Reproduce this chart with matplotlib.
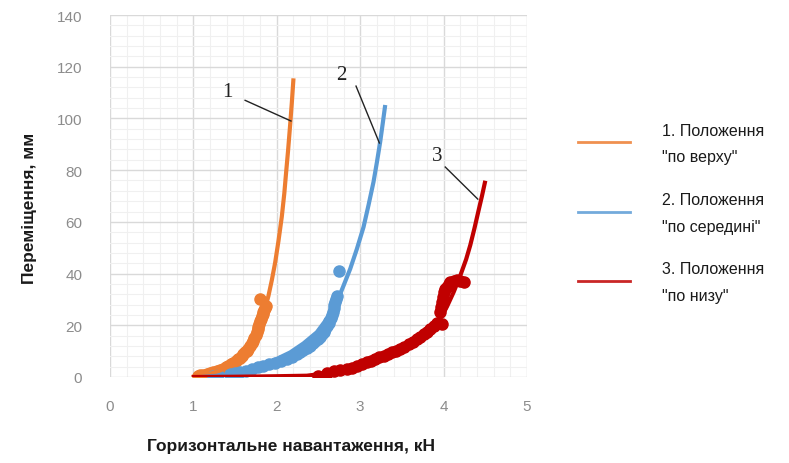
import matplotlib

matplotlib.use("Agg")
import matplotlib.pyplot as plt
from matplotlib.lines import Line2D
from matplotlib.ticker import MultipleLocator

# measured points: horizontal load (kN) vs displacement (mm)
top_x = [1.05, 1.08, 1.12, 1.16, 1.20, 1.24, 1.28, 1.32, 1.35, 1.39, 1.42, 1.45,
         1.48, 1.51, 1.53, 1.56, 1.58, 1.60, 1.62, 1.64, 1.66, 1.68, 1.70, 1.72,
         1.73, 1.75, 1.76, 1.77, 1.78, 1.79, 1.80, 1.81, 1.82, 1.83, 1.84, 1.85,
         1.86, 1.87, 1.80]
top_y = [0.4, 0.6, 0.8, 1.1, 1.5, 1.9, 2.4, 2.9, 3.2, 3.9, 4.4, 5.0,
         5.5, 6.2, 6.8, 7.5, 8.0, 8.8, 9.5, 10.2, 11.0, 12.0, 13.0, 14.0,
         15.0, 16.2, 17.3, 18.5, 19.5, 20.5, 21.5, 22.5, 23.5, 24.3, 25.0, 25.8,
         26.5, 27.5, 30.0]

mid_x = [1.24, 1.30, 1.44, 1.50, 1.56, 1.63, 1.70, 1.77, 1.84, 1.91, 1.98, 2.05,
         2.12, 2.18, 2.24, 2.28, 2.32, 2.36, 2.40, 2.43, 2.46, 2.49, 2.52, 2.54,
         2.56, 2.58, 2.60, 2.62, 2.63, 2.65, 2.66, 2.67, 2.68, 2.69, 2.70, 2.71,
         2.72, 2.74]
mid_y = [0.5, 0.7, 1.2, 1.5, 1.8, 2.4, 3.0, 3.7, 4.4, 5.0, 5.6, 6.3,
         7.0, 7.9, 8.8, 9.6, 10.5, 11.3, 12.1, 13.0, 13.8, 14.6, 15.5, 16.5,
         17.5, 18.6, 19.8, 20.8, 21.8, 23.0, 24.0, 25.2, 26.5, 27.8, 29.0, 30.2,
         31.4, 41.0]

low_x = [2.50, 2.60, 2.68, 2.76, 2.84, 2.90, 2.96, 3.02, 3.08, 3.13, 3.18, 3.23,
         3.28, 3.33, 3.38, 3.43, 3.48, 3.53, 3.58, 3.63, 3.68, 3.72, 3.76, 3.80,
         3.84, 3.88, 3.92, 3.98, 3.96, 3.97, 3.98, 3.99, 4.00, 4.02, 4.04, 4.06,
         4.08, 4.12, 4.16, 4.20, 4.24]
low_y = [0.5, 1.5, 2.4, 2.7, 3.0, 3.6, 4.2, 5.0, 5.7, 6.3, 7.0, 7.6,
         8.2, 8.9, 9.5, 10.1, 10.8, 11.7, 12.6, 13.6, 14.7, 15.6, 16.5, 17.5,
         18.6, 19.8, 21.0, 20.5, 25.0, 27.0, 29.0, 31.0, 32.8, 34.0, 35.0, 35.8,
         36.6, 37.2, 37.5, 37.0, 36.6]

# fitted trend lines
fit_top_x = [0.98, 1.10, 1.20, 1.32, 1.44, 1.54, 1.64, 1.72, 1.80, 1.86, 1.90,
             1.94, 1.98, 2.02, 2.06, 2.09, 2.11, 2.135, 2.16, 2.18, 2.20]
fit_top_y = [0.0, 0.5, 1.2, 2.5, 4.4, 7.2, 10.8, 15.5, 21.0, 26.5, 31.4,
             37.4, 44.2, 52.6, 62.0, 71.0, 78.5, 87.5, 97.5, 106.0, 115.5]

fit_mid_x = [1.10, 1.30, 1.48, 1.64, 1.80, 1.98, 2.16, 2.32, 2.48, 2.60, 2.72,
             2.80, 2.88, 2.96, 3.04, 3.10, 3.16, 3.20, 3.24, 3.27, 3.30]
fit_mid_y = [0.0, 0.5, 1.2, 2.6, 4.4, 6.7, 9.5, 13.0, 17.3, 22.5, 28.9,
             35.3, 41.8, 49.5, 58.0, 66.5, 75.5, 83.0, 91.0, 98.0, 105.2]

fit_low_x = [0.98, 1.50, 2.00, 2.36, 2.56, 2.76, 2.96, 3.16, 3.36, 3.56, 3.70,
             3.84, 3.95, 4.04, 4.12, 4.20, 4.27, 4.32, 4.37, 4.42, 4.46, 4.50]
fit_low_y = [0.0, 0.1, 0.3, 0.5, 1.3, 2.4, 3.9, 5.7, 8.0, 10.8, 13.8,
             17.6, 22.0, 27.2, 32.8, 39.2, 45.5, 51.0, 57.5, 64.5, 70.0, 75.9]

colors = ["#ED7D31", "#5B9BD5", "#C00000"]
labels = ['1. Положення\n"по верху"', '2. Положення\n"по середині"', '3. Положення\n"по низу"']

W, H = 789, 464
fig = plt.figure(figsize=(W / 100, H / 100), dpi=100)
ax = fig.add_axes([110 / W, (H - 378) / H, (527 - 110) / W, (378 - 16) / H])

series = [(top_x, top_y, fit_top_x, fit_top_y),
          (mid_x, mid_y, fit_mid_x, fit_mid_y),
          (low_x, low_y, fit_low_x, fit_low_y)]
for (px, py, fx, fy), c in zip(series, colors):
    ax.plot(px, py, "o", color=c, markersize=8, zorder=3)
    ax.plot(fx, fy, "-", color=c, linewidth=3, solid_capstyle="butt",
            solid_joinstyle="round", zorder=4)

# curve numbers with leader lines
callouts = [("1", (1.41, 110.5), (1.62, 107.0), (2.17, 99.0)),
            ("2", (2.77, 117.0), (2.95, 112.5), (3.23, 90.5)),
            ("3", (3.92, 85.5), (4.02, 81.2), (4.41, 68.8))]
for num, txt, p0, p1 in callouts:
    ax.text(*txt, num, ha="center", va="center", fontsize=15,
            family="Liberation Serif", color="#222222", zorder=5)
    ax.plot([p0[0], p1[0]], [p0[1], p1[1]], color="#222222", linewidth=1, zorder=5)

ax.set_xlim(0, 5)
ax.set_ylim(0, 140)
ax.xaxis.set_major_locator(MultipleLocator(1))
ax.xaxis.set_minor_locator(MultipleLocator(0.2))
ax.yaxis.set_major_locator(MultipleLocator(20))
ax.yaxis.set_minor_locator(MultipleLocator(4))
ax.grid(True, which="major", color="#d9d9d9", linewidth=1)
ax.grid(True, which="minor", color="#f0f0f0", linewidth=0.8)
ax.set_axisbelow(True)
for s in ax.spines.values():
    s.set_visible(False)
ax.tick_params(which="both", length=0)
ax.tick_params(axis="y", pad=20)
ax.tick_params(axis="x", pad=16)
for t in ax.get_xticklabels() + ax.get_yticklabels():
    t.set_fontsize(11)
    t.set_color("#8c8c8c")
    t.set_family("Liberation Sans")

fig.text(30 / W, 1 - 208 / H, "Переміщення, мм", rotation=90, ha="center", va="center",
         fontsize=12.5, fontweight="bold", family="Liberation Sans", color="#1a1a1a")
fig.text(291 / W, 1 - 447 / H, "Горизонтальне навантаження, кН", ha="center", va="center",
         fontsize=12.5, fontweight="bold", family="Liberation Sans", color="#1a1a1a")

# legend drawn by hand for its wide line spacing
for i, (c, lab) in enumerate(zip(colors, labels)):
    yl = 143 + i * 69.5
    fig.add_artist(Line2D([578 / W, 630 / W], [1 - yl / H, 1 - yl / H],
                          transform=fig.transFigure, color=c, linewidth=2, alpha=0.85))
    first, second = lab.split("\n")
    fig.text(662 / W, 1 - (yl - 12) / H, first, ha="left", va="center",
             fontsize=11.5, family="Liberation Sans", color="#1a1a1a")
    fig.text(662 / W, 1 - (yl + 15) / H, second, ha="left", va="center",
             fontsize=11.5, family="Liberation Sans", color="#1a1a1a")

fig.savefig("out.png", dpi=100)
